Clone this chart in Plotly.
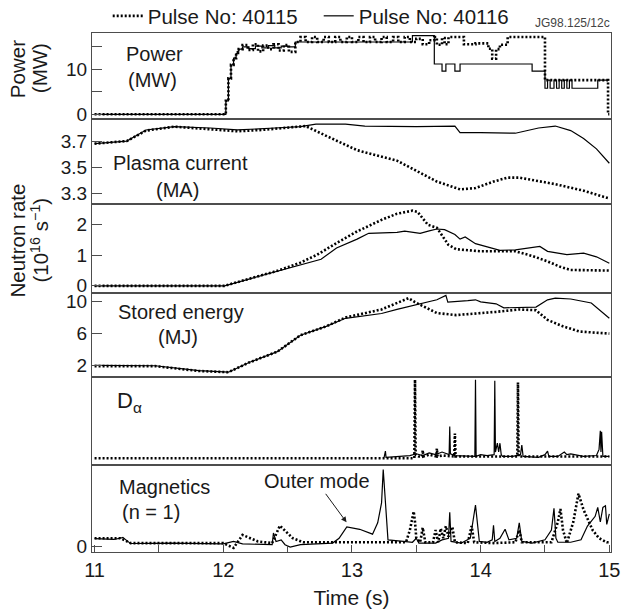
import plotly.graph_objects as go

# ---------------- data ----------------
# Power (MW)
pw_t_40115 = [11.0, 12.02, 12.04, 12.06, 12.08, 12.10, 12.12, 12.15, 12.19, 12.23, 12.27, 12.31, 12.35, 12.39, 12.43, 12.47, 12.51, 12.56,
              12.60, 12.64, 12.69, 12.73, 12.78, 12.82, 12.87, 12.91, 12.96, 13.00, 13.05, 13.09, 13.14, 13.18, 13.23, 13.27, 13.32, 13.36, 13.41, 13.45, 13.50, 13.55, 13.60,
              13.64, 13.66, 13.70, 13.72, 13.75, 13.87, 13.96, 14.06, 14.09, 14.12, 14.15, 14.21, 14.50, 14.99, 15.0]
pw_p_40115 = [0, 3, 8, 11, 12.5, 13.8, 14.5, 15.4, 14.3, 15.6, 14.0, 15.3, 14.5, 15.6, 14.2, 15.4, 13.9, 16.1,
              17.2, 16.1, 17.2, 16.1, 17.2, 16.1, 17.2, 16.1, 17.2, 16.1, 17.2, 16.1, 17.2, 16.1, 17.2, 16.1, 17.2, 16.1, 17.2, 16.1, 16.8, 15.6, 16.5,
              17.2, 15.5, 17.0, 15.6, 17.2, 15.6, 15.8, 14.6, 12.4, 14.5, 15.5, 17.2, 7.6, 0.0, 0.0]
pw_t_40116 = [11.0, 12.02, 12.04, 12.06, 12.08, 12.10, 12.12, 12.15, 12.2, 12.25, 12.3, 12.35, 12.4, 12.45, 12.5, 12.56,
              13.47, 13.64, 13.70, 13.73, 13.80, 13.84, 14.40, 14.50, 14.52, 14.54, 14.57, 14.59, 14.61, 14.63, 14.65, 14.67, 14.69, 14.71, 14.91, 15.0]
pw_p_40116 = [0, 3, 8, 11, 12.5, 13.5, 14.5, 15.0, 14.6, 15.2, 14.8, 15.3, 14.8, 15.2, 15.0, 16.1,
              17.5, 11.2, 9.6, 11.2, 9.6, 11.2, 9.6, 5.8, 7.6, 5.8, 7.6, 5.8, 7.6, 5.8, 7.6, 5.8, 7.6, 5.8, 7.6, 7.6]

# Plasma current (MA)
ip_t_40115 = [11.0, 11.25, 11.4, 11.62, 11.9, 12.11, 12.3, 12.5, 12.64, 12.8, 13.04, 13.35, 13.53, 13.66, 13.84, 13.96, 14.1, 14.21, 14.3, 14.58, 14.8, 15.0]
ip_v_40115 = [3.68, 3.70, 3.78, 3.81, 3.79, 3.775, 3.785, 3.80, 3.815, 3.74, 3.63, 3.55, 3.46, 3.39, 3.33, 3.34, 3.39, 3.42, 3.42, 3.37, 3.32, 3.26]
ip_t_40116 = [11.0, 11.25, 11.4, 11.62, 11.9, 12.11, 12.4, 12.6, 12.72, 12.95, 13.1, 13.5, 13.8, 13.84, 14.0, 14.27, 14.45, 14.58, 14.7, 14.8, 14.9, 15.0]
ip_v_40116 = [3.68, 3.70, 3.785, 3.81, 3.80, 3.785, 3.80, 3.81, 3.83, 3.83, 3.815, 3.81, 3.815, 3.765, 3.765, 3.76, 3.80, 3.815, 3.78, 3.72, 3.64, 3.53]

# Neutron rate (1e16 /s)
nr_t_40115 = [11.0, 12.01, 12.2, 12.42, 12.6, 12.73, 12.9, 13.04, 13.23, 13.35, 13.47, 13.51, 13.59, 13.66, 13.75, 13.81, 14.0, 14.27, 14.4, 14.52, 14.62, 14.7, 15.0]
nr_v_40115 = [0, 0, 0.23, 0.49, 0.76, 1.02, 1.45, 1.78, 2.16, 2.36, 2.46, 2.42, 2.0, 1.9, 1.34, 1.2, 1.13, 1.13, 0.98, 0.8, 0.62, 0.52, 0.5]
nr_t_40116 = [11.0, 12.01, 12.2, 12.42, 12.6, 12.76, 12.88, 13.04, 13.13, 13.25, 13.35, 13.41, 13.47, 13.53, 13.6, 13.66, 13.72, 13.8, 13.84, 13.88,
              13.96, 14.05, 14.15, 14.27, 14.4, 14.46, 14.52, 14.6, 14.67, 14.8, 14.9, 15.0]
nr_v_40116 = [0, 0, 0.22, 0.47, 0.68, 0.87, 1.24, 1.53, 1.72, 1.74, 1.75, 1.79, 1.76, 1.72, 1.80, 1.86, 1.84, 1.68, 1.53, 1.6,
              1.38, 1.27, 1.16, 1.18, 1.25, 1.29, 1.13, 1.08, 1.02, 1.07, 0.95, 0.74]

# Stored energy (MJ)
we_t_40115 = [11.0, 11.47, 11.81, 12.04, 12.2, 12.42, 12.6, 12.8, 12.95, 13.23, 13.44, 13.49, 13.66, 13.81, 14.12, 14.3, 14.43, 14.52, 14.64, 14.77, 15.0]
we_v_40115 = [1.95, 1.95, 1.35, 1.2, 2.4, 3.75, 5.8, 6.9, 8.0, 9.0, 10.4, 9.9, 8.55, 8.3, 8.7, 9.0, 8.9, 7.7, 6.9, 6.25, 6.0]
we_t_40116 = [11.0, 11.47, 11.81, 12.04, 12.2, 12.42, 12.6, 12.8, 12.95, 13.04, 13.23, 13.35, 13.53, 13.66, 13.73, 13.745, 13.9, 13.96, 14.0,
              14.12, 14.18, 14.43, 14.52, 14.58, 14.7, 14.86, 15.0]
we_v_40116 = [2.05, 2.0, 1.4, 1.2, 2.4, 3.75, 5.8, 6.9, 7.9, 8.1, 8.5, 9.0, 9.7, 10.2, 10.75, 9.9, 10.1, 10.2, 9.95,
              9.7, 9.2, 9.3, 10.2, 10.4, 10.3, 9.8, 7.9]

# D-alpha (arb.)
da_t_40115 = [11.0, 13.485, 13.49, 13.495, 13.52, 13.545, 13.55, 13.555, 13.6, 13.655, 13.66, 13.665, 13.7, 13.795, 13.8, 13.805,
              13.85, 14.285, 14.29, 14.295, 15.0]
da_v_40115 = [0.8, 0.8, 9.7, 1.2, 1.0, 1.0, 1.7, 1.0, 1.2, 1.0, 1.9, 1.0, 1.1, 1.0, 3.6, 1.0,
              1.0, 1.0, 9.4, 1.0, 1.0]
da_t_40116 = [13.25, 13.26, 13.265, 13.4, 13.45, 13.5, 13.55, 13.6, 13.65, 13.7, 13.755, 13.76, 13.765, 13.8, 13.9, 13.955, 13.96, 13.965,
              14.0, 14.05, 14.105, 14.11, 14.115, 14.13, 14.14, 14.15, 14.16, 14.17, 14.25, 14.31, 14.32, 14.33, 14.45, 14.5, 14.52, 14.53,
              14.6, 14.65, 14.67, 14.7, 14.8, 14.9, 14.92, 14.93, 14.935, 14.94, 14.95, 15.0]
da_v_40116 = [0.9, 1.6, 0.9, 1.0, 1.1, 1.3, 1.1, 1.4, 1.2, 1.5, 1.2, 4.4, 1.3, 1.1, 1.0, 1.0, 9.7, 1.0,
              1.2, 1.1, 1.2, 9.6, 1.5, 2.5, 1.5, 2.5, 1.2, 1.0, 1.0, 1.2, 2.3, 1.0, 0.9, 1.2, 1.6, 1.0,
              1.0, 1.5, 1.2, 1.3, 1.0, 1.1, 1.8, 3.9, 1.5, 3.8, 1.0, 1.0]

# Magnetics n=1 (arb.)
mg_t_40115 = [11.0, 11.2, 11.28, 12.0, 12.08, 12.15, 12.27, 12.38, 12.44, 12.54, 12.62, 13.42, 13.45, 13.47, 13.48, 13.49, 13.5, 13.53,
              13.55, 13.57, 13.63, 13.65, 13.67, 13.69, 13.71, 13.73, 13.75, 13.78, 13.8, 13.9, 13.93, 13.95, 14.1, 14.27, 14.3, 14.32,
              14.55, 14.6, 14.62, 14.64, 14.67, 14.72, 14.76, 14.8, 14.87, 14.92, 14.98, 15.0]
mg_v_40115 = [0.1, 0.1, 0.04, 0.04, -0.02, 0.14, 0.06, 0.04, 0.255, 0.1, 0.05, 0.05, 0.2, 0.35, 0.43, 0.3, 0.1, 0.05,
              0.23, 0.05, 0.05, 0.2, 0.05, 0.22, 0.1, 0.25, 0.12, 0.24, 0.05, 0.04, 0.25, 0.05, 0.04, 0.05, 0.2, 0.05,
              0.05, 0.3, 0.46, 0.2, 0.04, 0.3, 0.65, 0.45, 0.2, 0.1, 0.05, 0.05]
mg_t_40116 = [11.0, 11.1, 11.15, 11.2, 11.22, 11.25, 11.28, 11.6, 12.0, 12.08, 12.15, 12.38, 12.39, 12.41, 12.45, 12.48, 12.52, 12.6,
              12.85, 12.9, 12.96, 13.06, 13.16, 13.2, 13.23, 13.243, 13.256, 13.28, 13.4, 13.47, 13.5, 13.52, 13.65, 13.7, 13.75,
              13.76, 13.77, 13.85, 13.92, 13.96, 13.99, 14.05, 14.09, 14.1, 14.11, 14.15, 14.19, 14.22, 14.28, 14.3, 14.32, 14.4,
              14.5, 14.55, 14.57, 14.585, 14.6, 14.7, 14.78, 14.83, 14.89, 14.91, 14.93, 14.95, 14.97, 14.98, 15.0]
mg_v_40116 = [0.095, 0.09, 0.085, 0.1, 0.11, 0.07, 0.035, 0.04, 0.03, 0.06, 0.03, 0.02, 0.165, 0.06, 0.08, 0.02, -0.01, 0.02,
              0.04, 0.1, 0.24, 0.21, 0.15, 0.29, 0.535, 0.946, 0.6, 0.08, 0.06, 0.05, 0.1, 0.04, 0.04, 0.08, 0.1,
              0.42, 0.06, 0.04, 0.1, 0.51, 0.06, 0.05, 0.08, 0.26, 0.06, 0.1, 0.21, 0.08, 0.1, 0.29, 0.06, 0.04,
              0.08, 0.2, 0.47, 0.1, 0.05, 0.05, 0.08, 0.25, 0.37, 0.48, 0.3, 0.48, 0.5, 0.27, 0.4]

pulse_names = ["Pulse No: 40115", "Pulse No: 40116"]
x_ticks = [11, 12, 13, 14, 15]

# ---------------- layout constants ----------------
W, H = 622, 609
L, R = 92.3, 611.0
T, B = 33.0, 552.3
bounds = [33.0, 119.3, 204.5, 292.7, 377.3, 465.5, 552.3]
FONT = "Liberation Sans, Arial, Helvetica, sans-serif"
INK = "#1a1a1a"
FRAME = "#4d4d4d"

def xp(px):
    return (px - L) / (R - L)

def yp(py):
    return (B - py) / (B - T)

dotted = dict(color="black", width=2.6, dash="2px,2px")
solid = dict(color="black", width=1.2)

fig = go.Figure()

panels = [
    (pw_t_40115, pw_p_40115, pw_t_40116, pw_p_40116, "hv"),
    (ip_t_40115, ip_v_40115, ip_t_40116, ip_v_40116, "linear"),
    (nr_t_40115, nr_v_40115, nr_t_40116, nr_v_40116, "linear"),
    (we_t_40115, we_v_40115, we_t_40116, we_v_40116, "linear"),
    (da_t_40115, da_v_40115, da_t_40116, da_v_40116, "linear"),
    (mg_t_40115, mg_v_40115, mg_t_40116, mg_v_40116, "linear"),
]
for i, (t1, v1, t2, v2, shp) in enumerate(panels, start=1):
    sfx = "" if i == 1 else str(i)
    fig.add_trace(go.Scatter(x=t1, y=v1, mode="lines", line=dict(**dotted, shape=shp),
                             name=pulse_names[0], legendgroup="a", showlegend=(i == 1),
                             xaxis="x" + sfx, yaxis="y" + sfx))
    fig.add_trace(go.Scatter(x=t2, y=v2, mode="lines", line=dict(**solid, shape=shp),
                             name=pulse_names[1], legendgroup="b", showlegend=(i == 1),
                             xaxis="x" + sfx, yaxis="y" + sfx))

yranges = [[-1.1, 18.1], [3.215, 3.867], [-0.22, 2.666], [0.59, 11.1], [0, 10], [-0.07, 1.0]]
ytickvals = [[0, 10], [3.3, 3.5, 3.7], [0, 1, 2], [2, 6, 10], [], [0]]
xr = [10.98, 15.013]

lay = {}
for i in range(1, 7):
    sfx = "" if i == 1 else str(i)
    top, bot = bounds[i - 1], bounds[i]
    xa = dict(domain=[0, 1], anchor="y" + sfx, range=xr, showline=True, mirror=True,
              linecolor=FRAME, linewidth=1.3, showgrid=False, zeroline=False,
              showticklabels=False, ticks="", automargin=False)
    if i == 6:
        xa.update(showticklabels=True, ticks="inside", ticklen=7, tickcolor=FRAME, tickwidth=1.2,
                  tickvals=x_ticks, tickfont=dict(size=20, color=INK, family=FONT),
                  minor=dict(dtick=0.5, tick0=11, ticks="inside", ticklen=7, tickcolor=FRAME, tickwidth=1.2),
                  title=dict(text="Time (s)", font=dict(size=21, color=INK, family=FONT), standoff=14))
    ya = dict(domain=[yp(bot), yp(top)], anchor="x" + sfx, range=yranges[i - 1], showline=True, mirror=True,
              linecolor=FRAME, linewidth=1.3, showgrid=False, zeroline=False, automargin=False,
              ticks="inside" if ytickvals[i - 1] else "", ticklen=10, tickcolor=FRAME, tickwidth=1.2,
              tickvals=ytickvals[i - 1], tickfont=dict(size=19, color=INK, family=FONT))
    if i == 1:
        ya.update(minor=dict(tickvals=[5, 15], ticks="inside", ticklen=10, tickcolor=FRAME, tickwidth=1.2))
    lay["xaxis" + sfx] = xa
    lay["yaxis" + sfx] = ya

ann = []
def label(text, px, py, size=20, angle=0, color=INK):
    ann.append(dict(text=text, x=xp(px), y=yp(py), xref="paper", yref="paper", showarrow=False,
                    xanchor="center", yanchor="middle", textangle=angle,
                    font=dict(size=size, color=color, family=FONT)))

label("Power", 155, 54)
label("(MW)", 153, 80)
label("Plasma current", 181, 163)
label("(MA)", 178, 190)
label("Stored energy", 181, 312)
label("(MJ)", 178, 337)
label("D<sub>α</sub>", 130, 402, size=22)
label("Magnetics", 165, 487)
label("(n = 1)", 151, 512)
label("Power", 18.5, 69, size=20.5, angle=-90)
label("(MW)", 40, 68.5, size=20.5, angle=-90)
label("Neutron rate", 18, 241, size=20.5, angle=-90)
label("(10<sup>16</sup> s<sup>−1</sup>)", 40, 240, size=20.5, angle=-90)
ann.append(dict(text="JG98.125/12c", x=xp(612), y=yp(23), xref="paper", yref="paper", showarrow=False,
                xanchor="right", yanchor="middle", font=dict(size=12, color="#444", family=FONT)))
ann.append(dict(text="Outer mode", x=12.958, y=0.296, xref="x6", yref="y6", showarrow=True,
                ax=-30, ay=-41, arrowhead=2, arrowsize=1.1, arrowwidth=1, arrowcolor=INK,
                font=dict(size=20, color=INK, family=FONT)))

fig.update_layout(
    width=W, height=H, autosize=False,
    margin=dict(l=L, r=W - R, t=T, b=H - B, pad=0, autoexpand=False),
    paper_bgcolor="white", plot_bgcolor="white",
    font=dict(family=FONT, color=INK),
    showlegend=True,
    legend=dict(orientation="h", x=xp(108), y=yp(16), xanchor="left", yanchor="middle",
                font=dict(size=20.5, color=INK, family=FONT), bgcolor="rgba(0,0,0,0)",
                itemwidth=30, tracegroupgap=0, entrywidth=166, entrywidthmode="pixels"),
    annotations=ann,
    **lay,
)

fig.write_html("out.html")
